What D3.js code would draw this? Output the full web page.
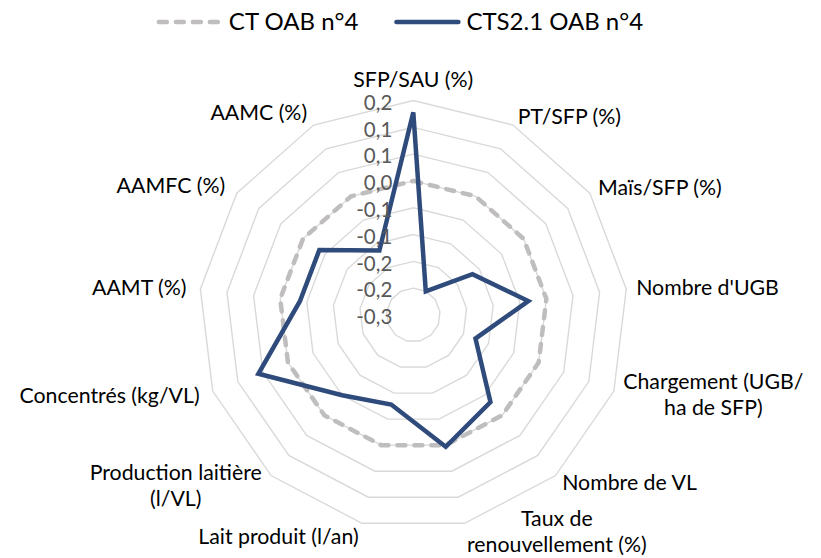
<!DOCTYPE html>
<html>
<head>
<meta charset="utf-8">
<script src="https://cdn.jsdelivr.net/npm/d3@7"></script>
<style>
  html, body { margin: 0; padding: 0; background: #fff; }
  svg { display: block; font-family: Lato, "Open Sans", sans-serif; }
</style>
</head>
<body>
<svg id="chart" width="821" height="558"></svg>
<script>
// ---- data ----
const categories = [
  "SFP/SAU (%)", "PT/SFP (%)", "Maïs/SFP (%)", "Nombre d'UGB",
  "Chargement (UGB/\nha de SFP)", "Nombre de VL", "Taux de\nrenouvellement (%)",
  "Lait produit (l/an)", "Production laitière\n(l/VL)", "Concentrés (kg/VL)",
  "AAMT (%)", "AAMFC (%)", "AAMC (%)"
];
const seriesNames = ["CT OAB n°4", "CTS2.1 OAB n°4"];
const ctValues  = [0, 0, 0, 0, 0, 0, 0, 0, 0, 0, 0, 0, 0];
const ctsValues = [0.128, -0.200, -0.116, -0.034, -0.126, -0.033, 0.003, -0.078, -0.050, 0.059, -0.037, -0.037, -0.114];
const tickValues = [-0.25, -0.2, -0.15, -0.1, -0.05, 0, 0.05, 0.1, 0.15];
const tickLabels = ["-0,3", "-0,2", "-0,2", "-0,1", "-0,1", "0,0", "0,1", "0,1", "0,2"];

// ---- layout ----
const cx = 413.3, cy = 315, R = 214.5;
const n = categories.length;
const svg = d3.select("#chart");
const r = d3.scaleLinear().domain([tickValues[0], tickValues[tickValues.length - 1]]).range([0, R]);
const angle = d3.scaleLinear().domain([0, n]).range([0, 2 * Math.PI]);

const g = svg.append("g").attr("transform", `translate(${cx},${cy})`);

// grid rings
const ringLine = d3.lineRadial().angle((d, i) => angle(i)).radius(d => r(d)).curve(d3.curveLinearClosed);
g.selectAll("path.ring")
  .data(tickValues.slice(1))
  .join("path")
  .attr("class", "ring")
  .attr("d", v => ringLine(d3.range(n).map(() => v)))
  .attr("fill", "none")
  .attr("stroke", "#d9d9d9")
  .attr("stroke-width", 1.4);

// series
const seriesLine = d3.lineRadial().angle((d, i) => angle(i)).radius(d => r(d)).curve(d3.curveLinearClosed);
g.append("path")
  .attr("d", seriesLine(ctValues))
  .attr("fill", "none")
  .attr("stroke", "#bfbdbd")
  .attr("stroke-width", 4.5)
  .attr("stroke-linecap", "round")
  .attr("stroke-dasharray", "8,9");
g.append("path")
  .attr("d", seriesLine(ctsValues))
  .attr("fill", "none")
  .attr("stroke", "#2e4b7b")
  .attr("stroke-width", 4.5)
  .attr("stroke-linejoin", "miter");

// tick labels
g.selectAll("text.tick")
  .data(tickValues)
  .join("text")
  .attr("class", "tick")
  .attr("x", -21)
  .attr("y", v => -r(v) + 2)
  .attr("dy", "0.35em")
  .attr("text-anchor", "end")
  .attr("font-size", 20.5)
  .attr("fill", "#595959")
  .text((v, i) => tickLabels[i]);

// category labels
const lineH = 26, fs = 21.3;
categories.forEach((c, i) => {
  const a = angle(i);
  const dx = Math.sin(a), dy = -Math.cos(a);
  const pad = dx < -0.01 ? 14 : 10;
  const px = (R + pad) * dx, py = (R + pad) * dy;
  const lines = c.split("\n");
  const t = g.append("text").attr("font-size", fs).attr("fill", "#000");
  const tsp = lines.map(l => t.append("tspan").text(l));
  const widths = tsp.map(s => s.node().getComputedTextLength());
  const w = d3.max(widths);
  const h = lines.length * lineH;
  let bx; // block center x
  if (Math.abs(dx) < 0.01) bx = px;
  else if (dx > 0) bx = px + w / 2;
  else bx = px - w / 2;
  let by = py; // block center y
  if (Math.abs(dx) < 0.01 && dy < 0) by = py - h / 2 + 2;
  if (cy + by + h / 2 > 558) by = 558 - cy - h / 2;
  tsp.forEach((s, k) => {
    s.attr("x", bx)
     .attr("y", by - h / 2 + lineH * k + lineH / 2)
     .attr("dy", "0.35em")
     .attr("text-anchor", "middle");
  });
});

// legend
const legend = svg.append("g");
const lfs = 24;
const items = [
  { name: seriesNames[0], color: "#bfbdbd", dash: "8,9" },
  { name: seriesNames[1], color: "#2e4b7b", dash: null }
];
const sampleW = 66, gapT = 6, gapItem = 36;
const ly = 22;
let widthsL = items.map(it => {
  const t = svg.append("text").attr("font-size", lfs).text(it.name);
  const w = t.node().getComputedTextLength();
  t.remove();
  return w;
});
const total = d3.sum(widthsL) + items.length * (sampleW + gapT) + gapItem * (items.length - 1);
let x0 = 400 - total / 2;
items.forEach((it, i) => {
  const l = legend.append("line")
    .attr("x1", x0 + 2).attr("x2", x0 + sampleW - 2)
    .attr("y1", ly).attr("y2", ly)
    .attr("stroke", it.color).attr("stroke-width", 4.5).attr("stroke-linecap", "round");
  if (it.dash) l.attr("stroke-dasharray", it.dash);
  legend.append("text")
    .attr("x", x0 + sampleW + gapT).attr("y", ly).attr("dy", "0.35em")
    .attr("font-size", lfs).attr("fill", "#000").text(it.name);
  x0 += sampleW + gapT + widthsL[i] + gapItem;
});
</script>
</body>
</html>
